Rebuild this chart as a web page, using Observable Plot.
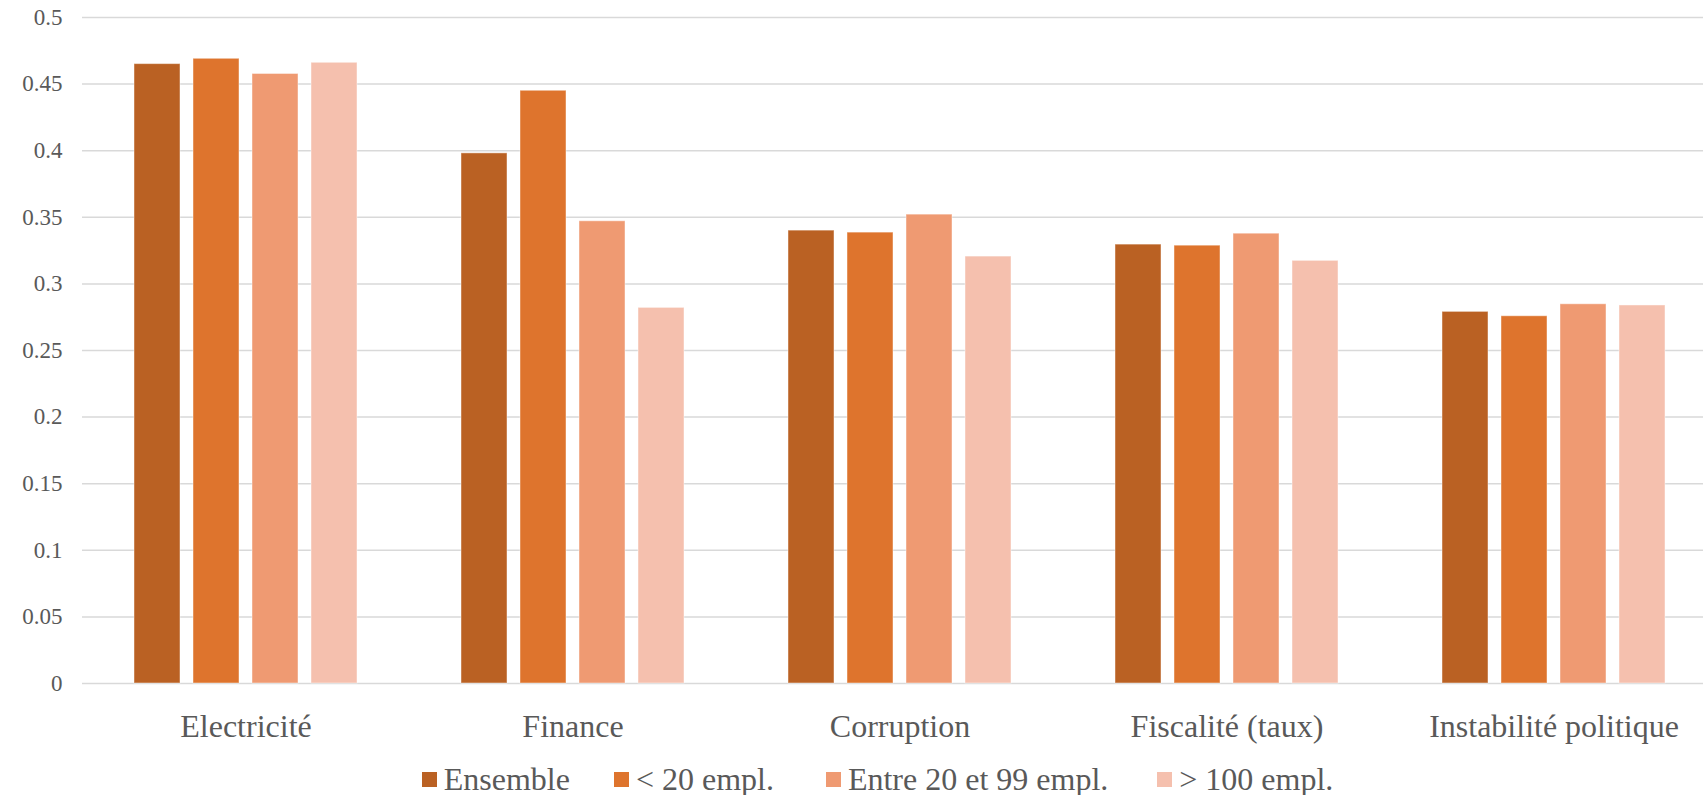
<!DOCTYPE html>
<html>
<head>
<meta charset="utf-8">
<script src="https://cdn.jsdelivr.net/npm/d3@7"></script>
<script src="https://cdn.jsdelivr.net/npm/@observablehq/plot@0.6"></script>
<style>
  html, body { margin: 0; padding: 0; background: #fff; overflow: hidden; }
  #chart { width: 1703px; height: 760px; overflow: hidden; }
  #chart svg { display: block; max-width: none !important; }
  .legend { display: flex; justify-content: center; font-family: "Liberation Serif", "Times New Roman", serif; font-size: 32px; color: #595959; height: 38px; align-items: center; width: 1703px; padding-left: 52px; box-sizing: border-box; }
  .legend span.item { display: flex; align-items: center; white-space: nowrap; }
  .legend span.sw { width: 15px; height: 15px; display: inline-block; margin-right: 7px; }
</style>
</head>
<body>
<div id="chart"></div>
<script>
const categories = ["Electricité", "Finance", "Corruption", "Fiscalité (taux)", "Instabilité politique"];
const series = ["Ensemble", "< 20 empl.", "Entre 20 et 99 empl.", "> 100 empl."];
const colors = ["#BA6123", "#DE742D", "#EF9A72", "#F5C0AE"];
const ensemble = [0.465, 0.398, 0.340, 0.3295, 0.279];
const moins20 = [0.469, 0.445, 0.3385, 0.3287, 0.2757];
const entre20et99 = [0.4576, 0.347, 0.352, 0.3377, 0.2847];
const plus100 = [0.466, 0.282, 0.3205, 0.3173, 0.2838];
const yTicks = [0, 0.05, 0.1, 0.15, 0.2, 0.25, 0.3, 0.35, 0.4, 0.45, 0.5];

const seriesValues = [ensemble, moins20, entre20et99, plus100];
const data = [];
categories.forEach((c, i) => {
  series.forEach((s, j) => data.push({category: c, series: s, value: seriesValues[j][i]}));
});

const plot = Plot.plot({
  width: 1717,
  height: 760,
  marginLeft: 82,
  marginRight: 0,
  marginTop: 17,
  marginBottom: 77,
  style: {fontFamily: "'Liberation Serif', 'Times New Roman', serif", color: "#595959", background: "white", maxWidth: "none", width: "1717px", height: "760px"},
  fx: {domain: categories, padding: 0, label: null},
  x: {domain: series, paddingInner: 0.217, paddingOuter: 0.861, axis: null},
  y: {domain: [0, 0.5], label: null},
  color: {domain: series, range: colors},
  marks: [
    Plot.gridY(yTicks, {stroke: "#d9d9d9", strokeOpacity: 1, strokeWidth: 1.5}),
    Plot.barY(data, {fx: "category", x: "series", y: "value", fill: "series", stroke: "#ffffff", strokeOpacity: 0.45, strokeWidth: 1}),
    Plot.axisY(yTicks, {tickSize: 0, tickPadding: 20, fontSize: 23, tickFormat: d => String(+d.toFixed(2)), label: null}),
    Plot.axisFx({anchor: "bottom", tickSize: 0, tickPadding: 31, fontSize: 32, label: null})
  ]
});
document.getElementById("chart").appendChild(plot);

const legendGaps = [44, 52, 49, 0];
const legend = document.createElement("div");
legend.className = "legend";
series.forEach((s, j) => {
  const item = document.createElement("span");
  item.className = "item";
  item.style.marginRight = legendGaps[j] + "px";
  const sw = document.createElement("span");
  sw.className = "sw";
  sw.style.background = colors[j];
  item.appendChild(sw);
  item.appendChild(document.createTextNode(s));
  legend.appendChild(item);
});
document.body.appendChild(legend);
</script>
</body>
</html>
